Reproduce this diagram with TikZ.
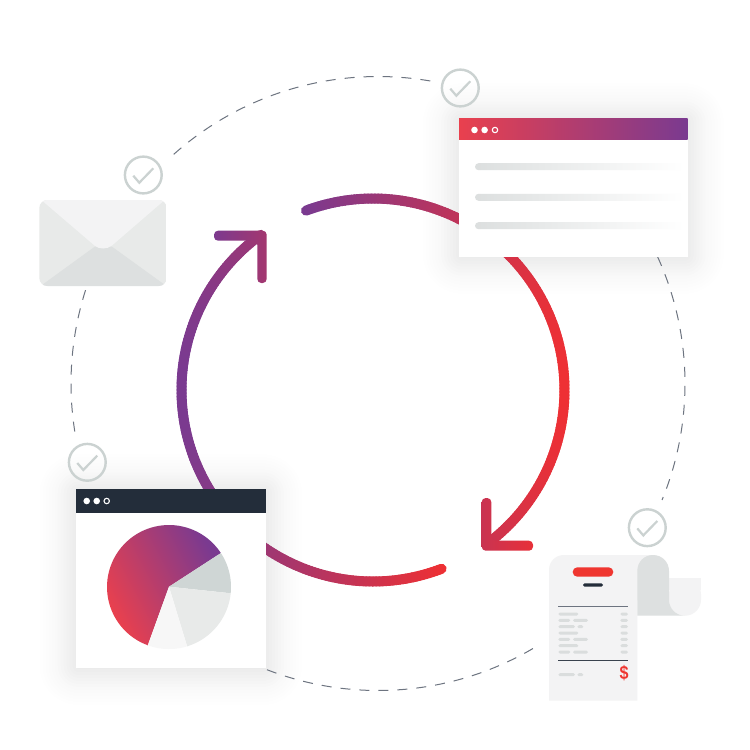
\documentclass[tikz,border=0pt]{standalone}
\usepackage{graphicx}
\usepackage{fontspec}
\setmainfont{Liberation Sans}
\definecolor{gred}{HTML}{EE3034}
\definecolor{gpurple}{HTML}{7A3A90}
\definecolor{pieRed}{HTML}{E9404E}
\definecolor{navy}{HTML}{232D3A}
\definecolor{dashcol}{HTML}{6D7480}
\definecolor{chk}{HTML}{CBD2D1}
\definecolor{pale}{HTML}{F3F3F4}
\definecolor{midg}{HTML}{E8EAE9}
\definecolor{darkg}{HTML}{DDE0E0}
\definecolor{rowg}{HTML}{DADDDD}
\definecolor{shadowc}{HTML}{6C7172}
\newcommand{\softshadow}[4]{%
  \foreach \r in {51,48,...,0}{%
    \pgfmathsetmacro\op{0.0012+0.0125*(1-\r/51)*(1-\r/51)}%
    \fill[shadowc,opacity=\op,rounded corners={(\r+3)*1pt}]
      ({#1-\r},{#2-\r+1}) rectangle ({#3+\r},{#4+\r+1});
  }%
}
\newcommand{\checkmarkicon}[2]{%
  \draw[chkring] (#1,#2) circle[radius=18.4pt];
  \draw[chktick] ({#1-10},{#2+0.7}) -- ({#1-4},{#2+7.7}) -- ({#1+10},{#2-6.7});
}
\newcommand{\gradarc}[6]{% start, end, second, x-purple, x-red, step
  \foreach \a in {#1,#3,...,#2}{%
    \pgfmathsetmacro\px{373+191.5*cos(\a)}%
    \pgfmathsetmacro\p{max(0,min(100,(\px-#4)/(#5-#4)*100))}%
    \draw[bigarc,color=gred!\p!gpurple]
      ({373+191.5*cos(\a)},{390+191.5*sin(\a)}) -- ({373+191.5*cos(\a+#6)},{390+191.5*sin(\a+#6)});
  }%
}
\tikzset{
  x=1pt,y=-1pt,
  bigarc/.style={line width=10pt,line cap=round},
  dashring/.style={dashcol,line width=1pt,dash pattern=on 10pt off 9pt},
  chkring/.style={chk,line width=2.4pt},
  chktick/.style={chk,line width=2.2pt,line join=miter},
  winbody/.style={fill=white},
  dotfill/.style={fill=white},
  dotring/.style={draw=white,line width=1.1pt},
  rowpill/.style={fill=rowg,rounded corners=1.5pt},
  textline/.style={left color=rowg!95!white,right color=white,rounded corners=3.5pt},
}
\begin{document}
\begin{tikzpicture}
\useasboundingbox[fill=white] (0,0) rectangle (750,750);

% soft shadows of the two windows
\softshadow{459}{118.3}{687.7}{256.7}
\softshadow{75.7}{489.3}{266}{668}

% dashed orbit
\draw[dashring] plot[domain=279.8:227,samples=70] ({378+307*cos(\x)},{383.5+307*sin(\x)});
\draw[dashring] plot[domain=197.7:170.4,samples=40] ({378+307*cos(\x)},{383.5+307*sin(\x)});
\draw[dashring] plot[domain=111.2:59,samples=70] ({378+307*cos(\x)},{383.5+307*sin(\x)});
\draw[dashring] plot[domain=-24.4:22.3,samples=60] ({378+307*cos(\x)},{383.5+307*sin(\x)});

% gradient arcs
\gradarc{249.5}{413}{250.5}{306}{565}{1.1}
\gradarc{69}{233}{70}{182}{442}{1.1}

% arrow heads
\begin{scope}
  \clip[rounded corners=4pt] (214,230.7) -- (266.7,230.7) -- (266.7,283) -- (257.3,283) -- (257.3,240.7) -- (214,240.7) -- cycle;
  \shade[left color=gpurple!98!gred,right color=gred!36!gpurple] (214,225) rectangle (267,290);
\end{scope}
\begin{scope}
  \clip[rounded corners=4pt] (481.7,498) -- (491.3,498) -- (491.3,540.7) -- (533,540.7) -- (533,550.7) -- (481.7,550.7) -- cycle;
  \shade[left color=gred!68!gpurple,right color=gred!95!gpurple] (481,495) rectangle (534,552);
\end{scope}

% top window
\fill[winbody] (459,118.3) rectangle (687.7,256.7);
\shade[left color=pieRed,right color=gpurple] (459,118.3) rectangle (687.7,139.3);
\fill[dotfill] (474.5,130) circle[radius=3.3pt];
\fill[dotfill] (484.6,130) circle[radius=3.3pt];
\draw[dotring] (495,130) circle[radius=2.7pt];
\shade[textline] (475,163.2) rectangle (684,170.2);
\shade[textline] (475,193.8) rectangle (684,200.8);
\shade[textline] (475,222.2) rectangle (684,229.2);

% bottom-left window
\fill[winbody] (75.7,489.3) rectangle (266,668);
\fill[navy] (75.7,489.3) rectangle (266,513);
\fill[dotfill] (86.7,501) circle[radius=3.3pt];
\fill[dotfill] (96.7,501) circle[radius=3.3pt];
\draw[dotring] (106.7,501) circle[radius=2.7pt];

% pie
\shade[bottom color=pieRed,top color=gpurple,shading angle=-62]
  (169,586.7) -- plot[domain=110:326.8,samples=60] ({169+62*cos(\x)},{587+62*sin(\x)}) -- cycle;
\fill[fill=chk!92!white] (169,586.7) -- plot[domain=-33.2:5.8,samples=20] ({169+62*cos(\x)},{587+62*sin(\x)}) -- cycle;
\fill[fill=midg] (169,586.7) -- plot[domain=5.8:73,samples=30] ({169+62*cos(\x)},{587+62*sin(\x)}) -- cycle;
\fill[fill=pale!70!white] (169,586.7) -- plot[domain=73:110,samples=20] ({169+62*cos(\x)},{587+62*sin(\x)}) -- cycle;

% envelope
\begin{scope}
  \clip[rounded corners=8pt] (39.3,200) rectangle (166.7,286);
  \fill[midg] (39.3,200) rectangle (166.7,286);
  \fill[darkg] (42,285) -- (95,246.5) -- (111.7,246.5) -- (165,285) -- (165,290) -- (42,290) -- cycle;
  \fill[pale] (39,198) -- (94.5,245.5) .. controls (99,249.5) and (107,249.5) .. (112,245.5) -- (167,198) -- cycle;
\end{scope}

% receipt
\fill[pale,rounded corners=16pt] (669,578.3) -- (701,578.3) -- (701,615.7) -- (669,615.7) -- cycle;
\fill[pale] (669,578.3) rectangle (701,590);
\fill[pale] (549,570) .. controls (549,561) and (556,555) .. (564,555) -- (653,555) -- (653,600) -- (637.3,600) -- (637.3,700.7) -- (549,700.7) -- cycle;
\fill[darkg] (637.3,571) .. controls (637.3,562) and (644,555) .. (653,555) .. controls (662,555) and (669,562) .. (669,571) -- (669,599.7) .. controls (669,608.5) and (676,615.7) .. (685,615.7) -- (637.3,615.7) -- cycle;
\fill[gred!92!orange,rounded corners=4.6pt] (572.7,567.3) rectangle (613.3,576.7);
\fill[navy,rounded corners=1.6pt] (583,583.3) rectangle (603,586.7);
\draw[dashcol,line width=1.3pt] (558,606.7) -- (628,606.7);
\foreach \y in {614,620.3,626.7,633,639.3,645.7,652}{\fill[rowpill] (620.3,\y-1.5) rectangle (628,\y+1.5);}
\foreach \y in {614,633,645.7}{\fill[rowpill] (558.3,\y-1.5) rectangle (578.3,\y+1.5);}
\foreach \y in {620.3,639.3,652}{\fill[rowpill] (558.3,\y-1.5) rectangle (570.3,\y+1.5);\fill[rowpill] (573,\y-1.5) rectangle (588,\y+1.5);}
\fill[rowpill] (558.3,625.2) rectangle (575,628.2);
\fill[rowpill] (577.3,625.2) rectangle (583.3,628.2);
\draw[navy!90!white,line width=1pt] (558,660.3) -- (628,660.3);
\fill[rowpill] (558.3,673.2) rectangle (575,676.2);
\fill[rowpill] (577.3,673.2) rectangle (583.3,676.2);
\node[text=gred!92!orange,font=\bfseries\fontsize{19}{19}\selectfont,inner sep=0pt] (dollar) at (624,673.3) {\scalebox{0.85}[1]{\$}};

% check badges
\checkmarkicon{143.3}{175}
\checkmarkicon{460.3}{88}
\checkmarkicon{87.3}{462.3}
\checkmarkicon{647.3}{527.7}
\end{tikzpicture}
\end{document}
